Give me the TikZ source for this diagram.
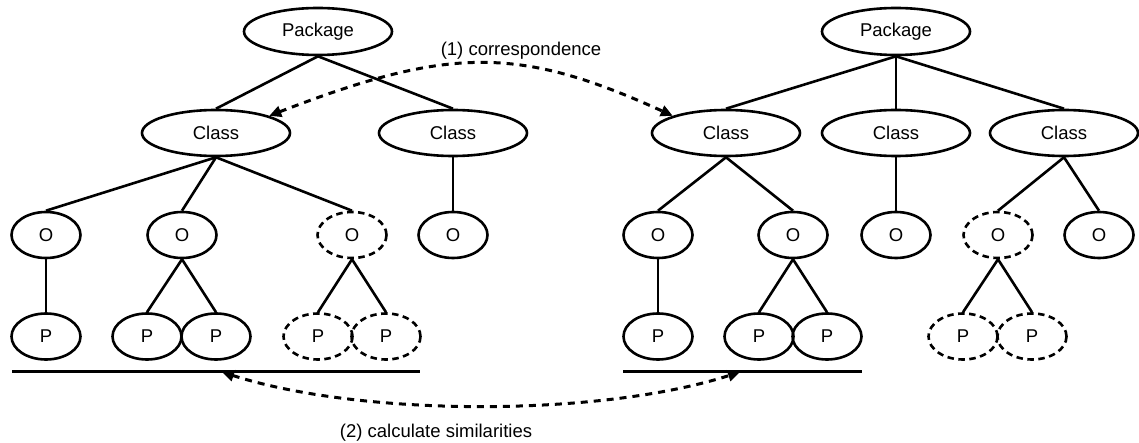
\documentclass[tikz,border=0pt]{standalone}
\usepackage{fontspec}
\setmainfont{Liberation Sans}
\usetikzlibrary{shapes.geometric,arrows.meta}
\begin{document}
\begin{tikzpicture}[x=1pt,y=-1pt,
  font=\fontsize{18.5}{22}\selectfont,
  elem/.style={ellipse,draw,line width=2.6pt,inner sep=0pt,minimum height=46pt},
  pkgnode/.style={elem,minimum width=148pt,minimum height=47pt},
  clsnode/.style={elem,minimum width=148pt},
  leafnode/.style={elem,minimum width=69pt},
  missing/.style={dash pattern=on 6.5pt off 4.5pt},
  treeedge/.style={line width=2.6pt},
  levelbar/.style={line width=3pt},
  link/.style={line width=3pt,dash pattern=on 7pt off 6pt,
    {Triangle[length=12pt,width=11pt]}-{Triangle[length=12pt,width=11pt]}},
  lbl/.style={inner sep=0pt}]
\useasboundingbox (0,0) rectangle (1139,443);

% ---------- left tree ----------
\node[pkgnode] (lpkg) at (318,31.5) {Package};
\node[clsnode] (lc1) at (216,133) {Class};
\node[clsnode] (lc2) at (453,133) {Class};
\node[leafnode] (lo1) at (46,235) {O};
\node[leafnode] (lo2) at (182,235) {O};
\node[leafnode,missing] (lo3) at (352,235) {O};
\node[leafnode] (lo4) at (453,235) {O};
\node[leafnode] (lp1) at (46,336.5) {P};
\node[leafnode] (lp2) at (147,336.5) {P};
\node[leafnode] (lp3) at (216,336.5) {P};
\node[leafnode,missing] (lp4) at (318,336.5) {P};
\node[leafnode,missing] (lp5) at (386,336.5) {P};

\foreach \a/\b in {lpkg/lc1,lpkg/lc2,lc1/lo1,lc1/lo2,lc1/lo3,lc2/lo4,
                   lo1/lp1,lo2/lp2,lo2/lp3,lo3/lp4,lo3/lp5}
  \draw[treeedge] (\a.south) -- (\b.north);

\coordinate (lbarA) at (12,371);
\coordinate (lbarB) at (420,371);
\draw[levelbar] (lbarA) -- (lbarB);

% ---------- right tree ----------
\node[pkgnode] (rpkg) at (896,31.5) {Package};
\node[clsnode] (rc1) at (726,133) {Class};
\node[clsnode] (rc2) at (896,133) {Class};
\node[clsnode] (rc3) at (1064,133) {Class};
\node[leafnode] (ro1) at (658,235) {O};
\node[leafnode] (ro2) at (793,235) {O};
\node[leafnode] (ro3) at (896,235) {O};
\node[leafnode,missing] (ro4) at (998,235) {O};
\node[leafnode] (ro5) at (1099,235) {O};
\node[leafnode] (rp1) at (658,336.5) {P};
\node[leafnode] (rp2) at (759,336.5) {P};
\node[leafnode] (rp3) at (827,336.5) {P};
\node[leafnode,missing] (rp4) at (963,336.5) {P};
\node[leafnode,missing] (rp5) at (1032,336.5) {P};

\foreach \a/\b in {rpkg/rc1,rpkg/rc2,rpkg/rc3,rc1/ro1,rc1/ro2,rc2/ro3,
                   rc3/ro4,rc3/ro5,ro1/rp1,ro2/rp2,ro2/rp3,ro4/rp4,ro4/rp5}
  \draw[treeedge] (\a.south) -- (\b.north);

\coordinate (rbarA) at (623,371);
\coordinate (rbarB) at (862,371);
\draw[levelbar] (rbarA) -- (rbarB);

% ---------- relations between the two trees ----------
\draw[link] (lc1.north east) .. controls (450,46) and (519,46) .. (rc1.north west);
\node[lbl] (corr) at (521,51) {(1) correspondence};

\coordinate (lsim) at (222,372);
\coordinate (rsim) at (740,372);
\draw[link] (lsim) .. controls (362,417) and (600,417) .. (rsim);
\node[lbl] (sim) at (436,433) {(2) calculate similarities};
\end{tikzpicture}
\end{document}
